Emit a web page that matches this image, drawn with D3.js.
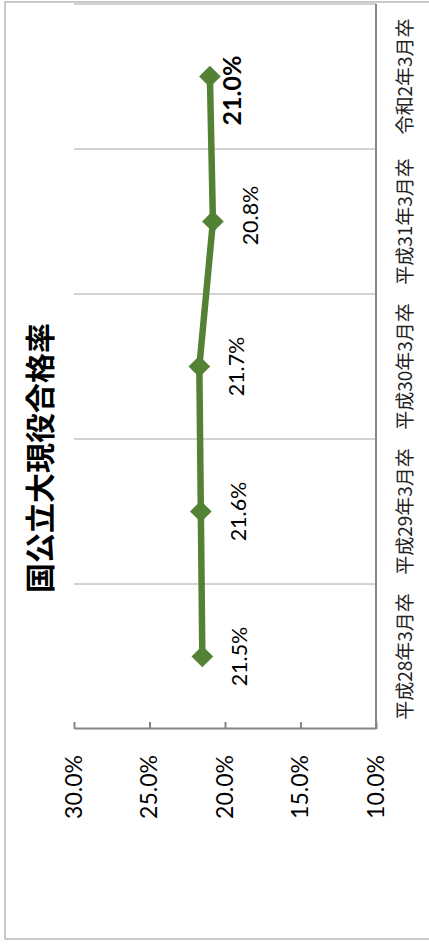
<!DOCTYPE html>
<html>
<head>
<meta charset="utf-8">
<script src="https://cdn.jsdelivr.net/npm/d3@7"></script>
<style>
body{margin:0;background:#fff}
</style>
</head>
<body>
<div id="chart"></div>
<script>
// data
var categories = ["平成28年3月卒","平成29年3月卒","平成30年3月卒","平成31年3月卒","令和2年3月卒"]
var rates = [21.5, 21.6, 21.7, 20.8, 21.0]
var yTicks = [10, 15, 20, 25, 30]
var title = "国公立大現役合格率"

var W = 429, H = 946
var green = "#548235"

var svg = d3.select("#chart").append("svg")
    .attr("width", W)
    .attr("height", H)

// chart is drawn in a 946 x 429 frame and turned on its side
var g = svg.append("g")
    .attr("transform", "translate(0," + H + ") rotate(-90)")

// outer border
g.append("rect")
    .attr("x", 7).attr("y", 5)
    .attr("width", 937).attr("height", 440)
    .attr("fill", "none")
    .attr("stroke", "#a6a6a6")
    .attr("stroke-width", 1.2)

var x = d3.scaleBand().domain(categories).range([217, 942])
var y = d3.scaleLinear().domain([10, 30]).range([376, 74])

// category gridlines
var bounds = categories.map(function(c){ return x(c) }).slice(1)
bounds.push(x.range()[1])
g.append("g").selectAll("line")
    .data(bounds)
    .enter().append("line")
    .attr("x1", function(d){ return d }).attr("x2", function(d){ return d })
    .attr("y1", y(30)).attr("y2", y(10))
    .attr("stroke", "#a6a6a6")
    .attr("stroke-width", 1)

// category axis
g.append("line")
    .attr("x1", x.range()[0]).attr("x2", x.range()[1])
    .attr("y1", y(10)).attr("y2", y(10))
    .attr("stroke", "#868686")
    .attr("stroke-width", 2)

g.append("g").selectAll("text")
    .data(categories)
    .enter().append("text")
    .attr("x", function(d){ return x(d) + x.bandwidth()/2 })
    .attr("y", y(10) + 36)
    .attr("text-anchor", "middle")
    .attr("font-family", "'Noto Sans CJK JP'")
    .attr("font-size", 19)
    .attr("fill", "#222")
    .text(function(d){ return d })

// value axis
var yAxis = g.append("g")
    .attr("transform", "translate(" + x.range()[0] + ",0)")
    .call(d3.axisLeft(y).tickValues(yTicks).tickSizeInner(-7).tickSizeOuter(0).tickPadding(26)
        .tickFormat(function(d){ return d3.format(".1f")(d) + "%" }))
yAxis.select(".domain").attr("stroke", "#868686").attr("stroke-width", 2)
yAxis.selectAll(".tick line").attr("stroke", "#868686").attr("stroke-width", 2)
yAxis.selectAll(".tick text")
    .attr("font-family", "Lato")
    .attr("font-size", 23)
    .attr("fill", "#000")

// line
var line = d3.line()
    .x(function(d, i){ return x(categories[i]) + x.bandwidth()/2 })
    .y(function(d){ return y(d) })

g.append("path")
    .datum(rates)
    .attr("d", line)
    .attr("fill", "none")
    .attr("stroke", green)
    .attr("stroke-width", 6.5)
    .attr("stroke-linejoin", "round")

g.append("g").selectAll("path")
    .data(rates)
    .enter().append("path")
    .attr("d", d3.symbol().type(d3.symbolDiamond2).size(300))
    .attr("transform", function(d, i){
        return "translate(" + (x(categories[i]) + x.bandwidth()/2) + "," + y(d) + ")"
    })
    .attr("fill", green)

// data labels
var last = rates.length - 1
g.append("g").selectAll("text")
    .data(rates)
    .enter().append("text")
    .attr("x", function(d, i){ return x(categories[i]) + x.bandwidth()/2 + (i == last ? -14 : (i == 3 ? 6 : 0)) })
    .attr("y", function(d, i){ return y(d) + (i == last ? 22 : 37) })
    .attr("dy", "0.36em")
    .attr("text-anchor", "middle")
    .attr("font-family", "Lato")
    .attr("font-size", function(d, i){ return i == last ? 25 : 21.5 })
    .attr("font-weight", function(d, i){ return i == last ? "bold" : "normal" })
    .attr("fill", "#000")
    .text(function(d){ return d3.format(".1f")(d) + "%" })

// title
g.append("text")
    .attr("x", 488)
    .attr("y", 51)
    .attr("text-anchor", "middle")
    .attr("font-family", "'Noto Sans CJK JP'")
    .attr("font-weight", "bold")
    .attr("font-size", 30)
    .attr("fill", "#000")
    .text(title)
</script>
</body>
</html>
